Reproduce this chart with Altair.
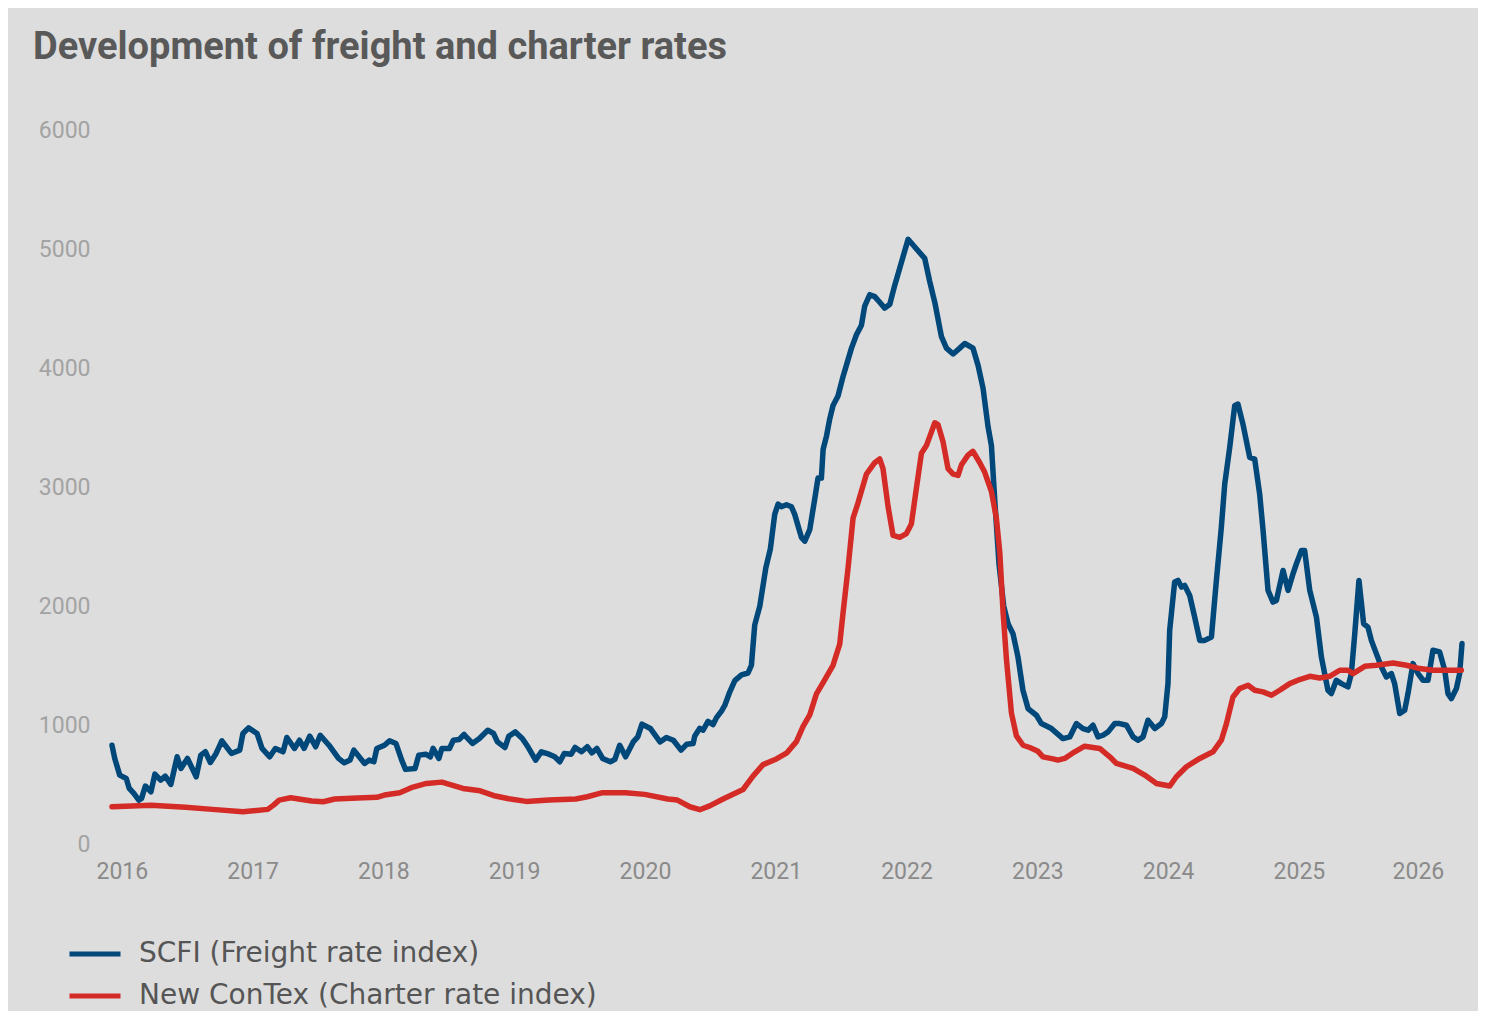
import altair as alt
import pandas as pd

title_text = "Development of freight and charter rates"
series_names = ["SCFI (Freight rate index)", "New ConTex (Charter rate index)"]
series_colors = ["#00477a", "#d42b27"]
year_ticks = [2016, 2017, 2018, 2019, 2020, 2021, 2022, 2023, 2024, 2025, 2025.91]
value_ticks = [0, 1000, 2000, 3000, 4000, 5000, 6000]

scfi = [
    (2015.925, 830), (2015.946, 719), (2015.984, 579), (2016.034, 551), (2016.057, 467),
    (2016.092, 425), (2016.130, 369), (2016.151, 383), (2016.180, 487), (2016.223, 439),
    (2016.253, 587), (2016.297, 537), (2016.332, 570), (2016.375, 501), (2016.423, 733),
    (2016.452, 635), (2016.502, 719), (2016.569, 565), (2016.604, 747), (2016.639, 775),
    (2016.677, 685), (2016.721, 761), (2016.765, 867), (2016.838, 761), (2016.902, 789),
    (2016.926, 929), (2016.969, 976), (2017.034, 929), (2017.072, 803), (2017.131, 733),
    (2017.174, 803), (2017.233, 775), (2017.262, 895), (2017.320, 803), (2017.359, 872),
    (2017.394, 803), (2017.437, 906), (2017.482, 817), (2017.517, 914), (2017.584, 830),
    (2017.657, 719), (2017.701, 682), (2017.745, 705), (2017.774, 789), (2017.856, 677),
    (2017.891, 705), (2017.927, 691), (2017.950, 803), (2018.008, 830), (2018.047, 867),
    (2018.096, 845), (2018.140, 705), (2018.169, 627), (2018.242, 635), (2018.271, 747),
    (2018.324, 755), (2018.359, 733), (2018.380, 803), (2018.424, 719), (2018.447, 803),
    (2018.505, 803), (2018.535, 872), (2018.579, 878), (2018.617, 920), (2018.681, 845),
    (2018.734, 887), (2018.798, 956), (2018.842, 929), (2018.872, 858), (2018.930, 811),
    (2018.959, 906), (2019.009, 942), (2019.062, 887), (2019.105, 817), (2019.164, 705),
    (2019.208, 775), (2019.266, 755), (2019.310, 733), (2019.349, 691), (2019.383, 761),
    (2019.436, 755), (2019.466, 811), (2019.515, 775), (2019.559, 817), (2019.594, 766),
    (2019.632, 803), (2019.676, 719), (2019.735, 691), (2019.770, 711), (2019.807, 830),
    (2019.852, 733), (2019.910, 858), (2019.945, 900), (2019.977, 1007), (2020.041, 971),
    (2020.115, 858), (2020.164, 895), (2020.217, 872), (2020.276, 789), (2020.320, 839),
    (2020.368, 844), (2020.381, 908), (2020.419, 972), (2020.444, 956), (2020.482, 1030),
    (2020.521, 1004), (2020.547, 1062), (2020.585, 1117), (2020.610, 1164), (2020.648, 1277),
    (2020.687, 1373), (2020.738, 1421), (2020.788, 1437), (2020.814, 1502), (2020.839, 1839),
    (2020.878, 1999), (2020.924, 2320), (2020.959, 2481), (2020.992, 2770), (2021.018, 2857),
    (2021.043, 2834), (2021.082, 2851), (2021.120, 2834), (2021.145, 2770), (2021.196, 2577),
    (2021.222, 2545), (2021.260, 2642), (2021.298, 2899), (2021.323, 3075), (2021.349, 3075),
    (2021.362, 3315), (2021.388, 3428), (2021.413, 3573), (2021.438, 3685), (2021.476, 3765),
    (2021.514, 3926), (2021.540, 4022), (2021.579, 4167), (2021.617, 4279), (2021.655, 4359),
    (2021.680, 4520), (2021.719, 4616), (2021.757, 4600), (2021.795, 4552), (2021.833, 4503),
    (2021.872, 4536), (2021.910, 4696), (2021.961, 4889), (2022.012, 5081), (2022.050, 5034),
    (2022.088, 4985), (2022.139, 4921), (2022.177, 4728), (2022.216, 4552), (2022.267, 4263),
    (2022.305, 4167), (2022.356, 4118), (2022.407, 4167), (2022.445, 4206), (2022.508, 4167),
    (2022.547, 4022), (2022.585, 3830), (2022.623, 3508), (2022.649, 3348), (2022.674, 2899),
    (2022.707, 2352), (2022.743, 1999), (2022.776, 1851), (2022.814, 1767), (2022.852, 1571),
    (2022.890, 1292), (2022.929, 1138), (2022.993, 1082), (2023.031, 1012), (2023.108, 970),
    (2023.196, 886), (2023.248, 900), (2023.299, 1012), (2023.349, 970), (2023.388, 956),
    (2023.426, 998), (2023.464, 900), (2023.502, 914), (2023.541, 942), (2023.592, 1012),
    (2023.630, 1012), (2023.681, 998), (2023.732, 900), (2023.770, 872), (2023.808, 900),
    (2023.846, 1040), (2023.898, 970), (2023.949, 1012), (2023.974, 1068), (2023.999, 1348),
    (2024.012, 1795), (2024.025, 1935), (2024.050, 2201), (2024.076, 2215), (2024.102, 2159),
    (2024.127, 2173), (2024.165, 2089), (2024.203, 1907), (2024.242, 1711), (2024.280, 1711),
    (2024.331, 1739), (2024.369, 2215), (2024.407, 2662), (2024.433, 3026), (2024.471, 3333),
    (2024.509, 3683), (2024.534, 3697), (2024.572, 3529), (2024.624, 3249), (2024.662, 3235),
    (2024.700, 2941), (2024.726, 2634), (2024.764, 2131), (2024.802, 2033), (2024.828, 2047),
    (2024.879, 2299), (2024.917, 2131), (2024.955, 2271), (2024.981, 2355), (2025.019, 2466),
    (2025.044, 2466), (2025.083, 2131), (2025.134, 1907), (2025.172, 1571), (2025.222, 1292),
    (2025.248, 1264), (2025.286, 1376), (2025.325, 1348), (2025.375, 1320), (2025.401, 1432),
    (2025.427, 1767), (2025.459, 2215), (2025.495, 1851), (2025.528, 1823), (2025.554, 1711),
    (2025.592, 1600), (2025.631, 1488), (2025.669, 1404), (2025.707, 1432), (2025.732, 1348),
    (2025.771, 1096), (2025.809, 1124), (2025.834, 1264), (2025.872, 1516), (2025.911, 1432),
    (2025.949, 1376), (2025.987, 1376), (2026.025, 1628), (2026.076, 1614), (2026.115, 1460),
    (2026.140, 1264), (2026.166, 1222), (2026.204, 1306), (2026.229, 1432), (2026.247, 1684),
]

contex = [
    (2015.925, 313), (2016.223, 325), (2016.487, 308), (2016.692, 291), (2016.926, 271),
    (2017.116, 291), (2017.160, 327), (2017.203, 369), (2017.291, 389), (2017.452, 361),
    (2017.540, 355), (2017.628, 378), (2017.804, 386), (2017.950, 392), (2018.008, 411),
    (2018.125, 431), (2018.213, 473), (2018.330, 509), (2018.447, 520), (2018.608, 467),
    (2018.740, 447), (2018.857, 403), (2018.959, 380), (2019.091, 358), (2019.266, 369),
    (2019.471, 378), (2019.559, 397), (2019.676, 431), (2019.852, 431), (2019.998, 417),
    (2020.174, 378), (2020.248, 369), (2020.343, 313), (2020.419, 288), (2020.495, 320),
    (2020.597, 378), (2020.750, 458), (2020.826, 570), (2020.903, 667), (2021.005, 715),
    (2021.082, 763), (2021.158, 860), (2021.209, 988), (2021.260, 1085), (2021.311, 1261),
    (2021.362, 1357), (2021.438, 1502), (2021.489, 1679), (2021.514, 1936), (2021.553, 2320),
    (2021.591, 2738), (2021.629, 2867), (2021.693, 3108), (2021.757, 3204), (2021.795, 3236),
    (2021.820, 3155), (2021.859, 2834), (2021.897, 2593), (2021.948, 2577), (2021.999, 2609),
    (2022.037, 2690), (2022.076, 2995), (2022.114, 3284), (2022.152, 3348), (2022.216, 3540),
    (2022.241, 3524), (2022.279, 3380), (2022.317, 3155), (2022.356, 3108), (2022.394, 3097),
    (2022.420, 3187), (2022.470, 3268), (2022.508, 3300), (2022.560, 3204), (2022.598, 3123),
    (2022.649, 2962), (2022.687, 2738), (2022.713, 2450), (2022.738, 1950), (2022.764, 1550),
    (2022.802, 1101), (2022.840, 908), (2022.891, 830), (2022.942, 811), (2023.005, 779),
    (2023.043, 732), (2023.120, 715), (2023.158, 705), (2023.209, 719), (2023.286, 775),
    (2023.362, 822), (2023.477, 803), (2023.554, 733), (2023.605, 677), (2023.732, 635),
    (2023.821, 579), (2023.911, 509), (2024.012, 487), (2024.063, 565), (2024.140, 649),
    (2024.242, 719), (2024.343, 775), (2024.407, 872), (2024.446, 1012), (2024.496, 1236),
    (2024.547, 1306), (2024.611, 1334), (2024.662, 1292), (2024.726, 1278), (2024.790, 1250),
    (2024.853, 1292), (2024.930, 1348), (2025.006, 1382), (2025.083, 1409), (2025.159, 1395),
    (2025.235, 1409), (2025.312, 1460), (2025.375, 1460), (2025.414, 1432), (2025.503, 1493),
    (2025.592, 1502), (2025.719, 1521), (2025.822, 1502), (2025.924, 1474), (2026.025, 1460),
    (2026.242, 1460),
]

rows = [{"year": y, "value": v, "series": series_names[0]} for y, v in scfi]
rows += [{"year": y, "value": v, "series": series_names[1]} for y, v in contex]
df = pd.DataFrame(rows)

chart = (
    alt.Chart(df)
    .mark_line(strokeWidth=5.5, strokeJoin="round", strokeCap="round")
    .encode(
        x=alt.X(
            "year:Q",
            scale=alt.Scale(zero=False, nice=False),
            axis=alt.Axis(
                values=year_ticks,
                labelExpr="'' + round(datum.value)",
                title=None,
                labelPadding=16,
                labelFontSize=23,
                labelColor="#8a8a8a",
                labelFlush=False,
            ),
        ),
        y=alt.Y(
            "value:Q",
            scale=alt.Scale(domain=[0, 6000], nice=False),
            axis=alt.Axis(
                values=value_ticks,
                format="d",
                title=None,
                labelPadding=22,
                labelFontSize=23,
                labelColor="#a3a3a3",
            ),
        ),
        color=alt.Color(
            "series:N",
            scale=alt.Scale(domain=series_names, range=series_colors),
            legend=alt.Legend(
                title=None,
                orient="none",
                legendX=-45,
                legendY=796,
                direction="vertical",
                symbolType="stroke",
                symbolSize=2601,
                symbolStrokeWidth=5,
                labelFont="DejaVu Sans",
                labelFontSize=28,
                labelColor="#555555",
                labelOffset=16,
                labelLimit=800,
                rowPadding=-8,
                padding=0,
            ),
        ),
    )
    .properties(
        width=1350,
        height=714,
        background="#dddddd",
        padding={"left": 104, "top": 122, "right": 16, "bottom": 167},
        autosize=alt.AutoSizeParams(type="none"),
        title=alt.TitleParams(
            text=title_text,
            anchor="start",
            frame="group",
            dx=-79,
            offset=22,
            baseline="alphabetic",
            fontSize=38,
            font="Roboto",
            fontWeight="bold",
            color="#595959",
        ),
    )
    .configure_view(strokeWidth=0)
    .configure_axis(domain=False, ticks=False, grid=False, labelFont="Roboto")
)

chart.save("out.html", embed_options={"renderer": "svg", "actions": False})
